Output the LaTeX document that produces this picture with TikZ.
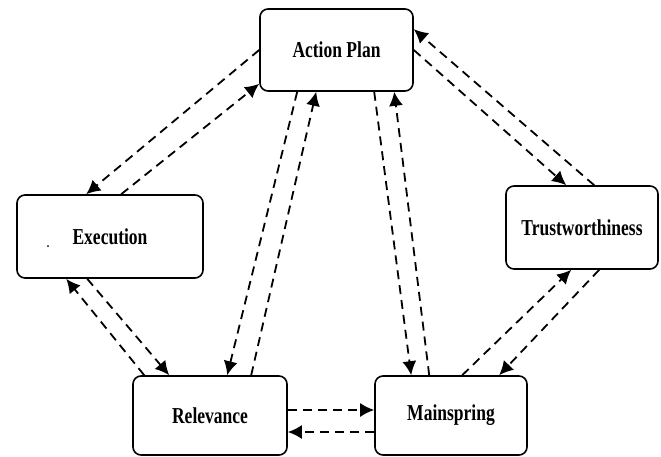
\documentclass[tikz,border=0pt]{standalone}
\usepackage{fontspec}
\setmainfont{Liberation Serif}
\usetikzlibrary{arrows.meta}
\tikzset{
  stage/.style={draw, line width=1.6pt, rounded corners=8pt, inner sep=0pt,
    fill=white, font=\fontsize{17.5}{20}\selectfont\bfseries},
  link/.style={line width=1.8pt, dash pattern=on 9pt off 6pt,
    -{Latex[length=14pt,width=14pt]}}
}
\newcommand{\tallword}[1]{\scalebox{1}[1.3]{#1}}
\begin{document}
\begin{tikzpicture}[x=1pt,y=1pt]
\useasboundingbox (0,0) rectangle (661,456);

% the five stages
\node[stage, minimum width=153pt, minimum height=82pt] (ap)    at (336.5,406)  {\tallword{Action Plan}};
\node[stage, minimum width=186pt, minimum height=83pt] (exe)   at (110,219.5)  {\tallword{Execution}};
\node[stage, minimum width=152pt, minimum height=83pt] (trust) at (582,228.5)  {\tallword{Trustworthiness}};
\node[stage, minimum width=154pt, minimum height=79pt] (rel)   at (210,40.5)   {\tallword{Relevance}};
\node[stage, minimum width=152pt, minimum height=79pt] (main)  at (451,40.5)   {\tallword{Mainspring}};
\fill (48,210) circle (1pt);

% Action Plan <-> Execution
\draw[link] (ap.west) -- ([xshift=70pt]exe.north west);
\draw[link] ([xshift=105pt]exe.north west) -- ([yshift=8pt]ap.south west);

% Execution <-> Relevance
\draw[link] ([xshift=12pt]rel.north west) -- ([xshift=50pt]exe.south west);
\draw[link] ([xshift=71pt]exe.south west) -- ([xshift=37pt]rel.north west);

% Action Plan <-> Relevance
\draw[link] ([xshift=38pt]ap.south west) -- ([xshift=95pt]rel.north west);
\draw[link] ([xshift=119pt]rel.north west) -- ([xshift=57pt]ap.south west);

% Action Plan <-> Mainspring
\draw[link] ([xshift=115pt]ap.south west) -- ([xshift=37pt]main.north west);
\draw[link] ([xshift=55pt]main.north west) -- ([xshift=135pt]ap.south west);

% Action Plan <-> Trustworthiness
\draw[link] ([xshift=89pt]trust.north west) -- ([yshift=-21pt]ap.north east);
\draw[link] (ap.east) -- ([xshift=61pt]trust.north west);

% Mainspring <-> Trustworthiness
\draw[link] ([xshift=88pt]main.north west) -- ([xshift=66pt]trust.south west);
\draw[link] ([xshift=94pt]trust.south west) -- ([xshift=125pt]main.north west);

% Relevance <-> Mainspring
\draw[link] ([yshift=5.5pt]rel.east) -- ([yshift=5.5pt]main.west);
\draw[link] ([yshift=-16.5pt]main.west) -- ([yshift=-16.5pt]rel.east);
\end{tikzpicture}
\end{document}
